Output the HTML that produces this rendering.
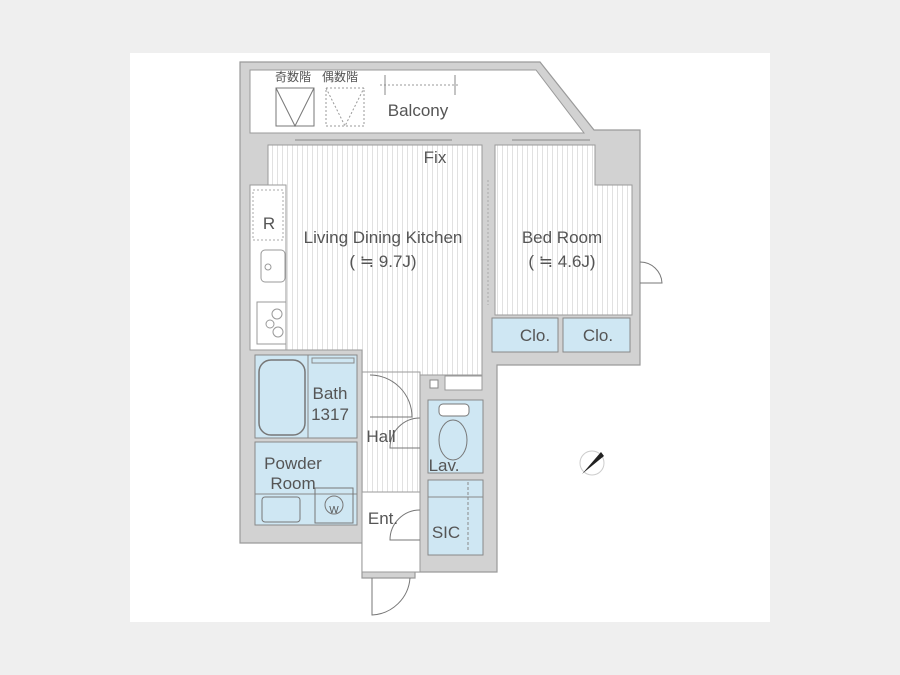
<!DOCTYPE html>
<html><head><meta charset="utf-8"><style>
html,body{margin:0;padding:0;background:#efefef;}
svg{display:block}
text{font-family:"Liberation Sans","Noto Sans CJK JP",sans-serif;fill:#555;}
</style></head><body>
<svg width="900" height="675" viewBox="0 0 900 675" xmlns="http://www.w3.org/2000/svg">
<defs>
<pattern id="st" width="5" height="10" patternUnits="userSpaceOnUse">
<rect width="5" height="10" fill="#fff"/><line x1="2.5" y1="0" x2="2.5" y2="10" stroke="#dadada" stroke-width="0.8"/>
</pattern>
</defs>
<rect x="130" y="53" width="640" height="569" fill="#fff"/>
<polygon points="240,62 540,62 594,130 640,130 640,365 497,365 497,572 415,572 415,578 362,578 362,543 240,543" fill="#d2d2d2" stroke="#9a9a9a" stroke-width="1.2"/>
<polygon points="250,70 536,70 584,133 250,133" fill="#fff" stroke="#9a9a9a"/>
<polygon points="268,145 482,145 482,375 415,375 415,372 362,372 362,350 250,350 250,185 268,185" fill="url(#st)" stroke="#9a9a9a"/>
<rect x="362" y="372" width="58" height="120" fill="url(#st)" stroke="#9a9a9a"/>
<rect x="362" y="492" width="58" height="80" fill="#fff" stroke="#9a9a9a"/>
<polygon points="495,145 595,145 595,185 632,185 632,315 495,315" fill="url(#st)" stroke="#9a9a9a"/>
<rect x="492" y="318" width="66" height="34" fill="#cfe7f3" stroke="#888"/>
<rect x="563" y="318" width="67" height="34" fill="#cfe7f3" stroke="#888"/>
<rect x="250" y="185" width="36" height="165" fill="#fff" stroke="#9a9a9a"/>
<rect x="253" y="190" width="30" height="50" fill="none" stroke="#aaa" stroke-dasharray="2,2"/>
<rect x="261" y="250" width="24" height="32" rx="4" fill="#fff" stroke="#999"/>
<circle cx="268" cy="267" r="3" fill="none" stroke="#999"/>
<rect x="257" y="302" width="29" height="42" fill="#fff" stroke="#999"/>
<circle cx="277" cy="314" r="5" fill="none" stroke="#999"/><circle cx="270" cy="324" r="4" fill="none" stroke="#999"/><circle cx="278" cy="332" r="5" fill="none" stroke="#999"/>
<rect x="255" y="355" width="102" height="83" fill="#cfe7f3" stroke="#888"/>
<rect x="259" y="360" width="46" height="75" rx="12" fill="none" stroke="#777" stroke-width="1.5"/>
<line x1="308" y1="355" x2="308" y2="438" stroke="#888"/>
<rect x="312" y="358" width="42" height="5" fill="none" stroke="#888"/>
<rect x="255" y="442" width="102" height="83" fill="#cfe7f3" stroke="#888"/>
<line x1="255" y1="494" x2="357" y2="494" stroke="#888"/>
<rect x="262" y="497" width="38" height="25" rx="3" fill="none" stroke="#777"/>
<rect x="315" y="488" width="38" height="35" fill="none" stroke="#777"/>
<circle cx="334" cy="505" r="9" fill="none" stroke="#777"/>
<rect x="428" y="400" width="55" height="73" fill="#cfe7f3" stroke="#888"/>
<ellipse cx="453" cy="440" rx="14" ry="20" fill="none" stroke="#777"/>
<rect x="439" y="404" width="30" height="12" rx="4" fill="#fff" stroke="#777"/>
<rect x="428" y="480" width="55" height="75" fill="#cfe7f3" stroke="#888"/>
<line x1="428" y1="497" x2="483" y2="497" stroke="#888"/>
<line x1="468" y1="482" x2="468" y2="552" stroke="#888" stroke-dasharray="3,2"/>
<rect x="430" y="380" width="8" height="8" fill="#fff" stroke="#888"/>
<rect x="445" y="376" width="37" height="14" fill="#fff" stroke="#999"/>
<rect x="276" y="88" width="38" height="38" fill="none" stroke="#777"/>
<polyline points="276,88 295,126 314,88" fill="none" stroke="#777"/>
<rect x="326" y="88" width="38" height="38" fill="none" stroke="#999" stroke-dasharray="2,2"/>
<polyline points="326,88 345,126 364,88" fill="none" stroke="#999" stroke-dasharray="2,2"/>
<line x1="380" y1="85" x2="460" y2="85" stroke="#999" stroke-dasharray="2,2"/>
<line x1="385" y1="75" x2="385" y2="95" stroke="#888"/>
<line x1="455" y1="75" x2="455" y2="95" stroke="#888"/>
<line x1="295" y1="140" x2="452" y2="140" stroke="#888"/>
<line x1="512" y1="140" x2="590" y2="140" stroke="#888"/>
<path d="M370,375 A42,42 0 0 1 412,417 L370,417" fill="none" stroke="#777"/>
<path d="M420,418 A30,30 0 0 0 390,448 L420,448" fill="none" stroke="#777"/>
<path d="M420,510 A30,30 0 0 0 390,540 L420,540" fill="none" stroke="#777"/>
<path d="M372,578 L372,615 A40,40 0 0 0 410,578" fill="none" stroke="#777"/>
<path d="M640,262 A22,22 0 0 1 662,283 L640,283" fill="none" stroke="#777"/>
<line x1="488" y1="180" x2="488" y2="305" stroke="#aaa" stroke-dasharray="2,2"/>
<circle cx="592" cy="463" r="12" fill="none" stroke="#ccc"/>
<polygon points="582,474 601,452 604,456" fill="#222"/>
<g font-size="12"><text x="275" y="81">奇数階</text><text x="322" y="81">偶数階</text></g>
<g font-size="17">
<text x="418" y="116" text-anchor="middle">Balcony</text>
<text x="435" y="163" text-anchor="middle">Fix</text>
<text x="383" y="243" text-anchor="middle">Living Dining Kitchen</text>
<text x="383" y="267" text-anchor="middle">( ≒ 9.7J)</text>
<text x="562" y="243" text-anchor="middle">Bed Room</text>
<text x="562" y="267" text-anchor="middle">( ≒ 4.6J)</text>
<text x="269" y="229" text-anchor="middle">R</text>
<text x="535" y="341" text-anchor="middle">Clo.</text>
<text x="598" y="341" text-anchor="middle">Clo.</text>
<text x="330" y="399" text-anchor="middle">Bath</text>
<text x="330" y="420" text-anchor="middle">1317</text>
<text x="381" y="442" text-anchor="middle">Hall</text>
<text x="444" y="471" text-anchor="middle">Lav.</text>
<text x="293" y="469" text-anchor="middle">Powder</text>
<text x="293" y="489" text-anchor="middle">Room</text>
<text x="383" y="524" text-anchor="middle">Ent.</text>
<text x="446" y="538" text-anchor="middle">SIC</text>
</g>
<text x="334" y="513" font-size="10" text-anchor="middle">W</text>
</svg>
</body></html>
